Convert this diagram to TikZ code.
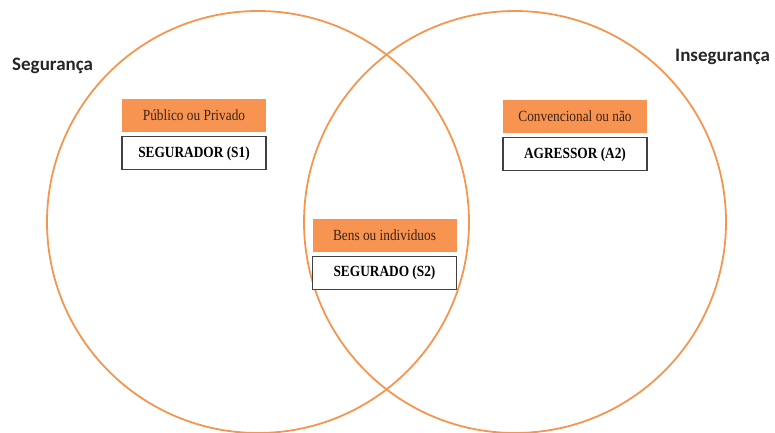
\documentclass[tikz,border=0pt]{standalone}
\usepackage{fontspec}
\setmainfont{Liberation Serif}
\newfontfamily\boxfont[FakeStretch=0.86]{Liberation Serif}
\newfontfamily\titlefont{Carlito}
\usepackage{xcolor}
\usetikzlibrary{positioning}
\definecolor{venn}{RGB}{244,150,80}
\definecolor{tag}{RGB}{248,148,82}
\definecolor{tagtext}{RGB}{60,35,20}
\definecolor{frame}{RGB}{64,64,64}

\begin{document}
\begin{tikzpicture}[x=1pt, y=-1pt, node distance=4pt,
  set/.style={circle, draw=venn, line width=1.8pt, minimum size=422pt, inner sep=0pt},
  tagbox/.style={rectangle, fill=tag, text=tagtext, minimum width=144pt, minimum height=33pt, inner sep=0pt, font=\boxfont\fontsize{15.5}{17}\selectfont},
  namebox/.style={rectangle, draw=frame, line width=1.2pt, fill=white, minimum width=144pt, minimum height=33pt, inner sep=0pt, font=\boxfont\fontsize{15.5}{17}\selectfont\bfseries},
  title/.style={anchor=base west, inner sep=0pt, text=black!85, font=\titlefont\fontsize{19}{22}\selectfont\bfseries}]
\useasboundingbox (0,0) rectangle (775,432);
\node [set] (seg) at (258,222) {};
\node [set] (inseg) at (515,222) {};
\node [title] (segtxt) at (12,70) {Segurança};
\node [title] (insegtxt) at (675,61) {Insegurança};
\node [tagbox] (publico) at (194,115.5) {Público ou Privado};
\node [namebox, below=of publico] (segurador) {SEGURADOR (S1)};
\node [tagbox] (convencional) at (575,116.5) {Convencional ou não};
\node [namebox, below=of convencional] (agressor) {AGRESSOR (A2)};
\node [tagbox] (bens) at (384.5,235) {Bens ou individuos};
\node [namebox, below=of bens] (segurado) {SEGURADO (S2)};
\end{tikzpicture}
\end{document}
